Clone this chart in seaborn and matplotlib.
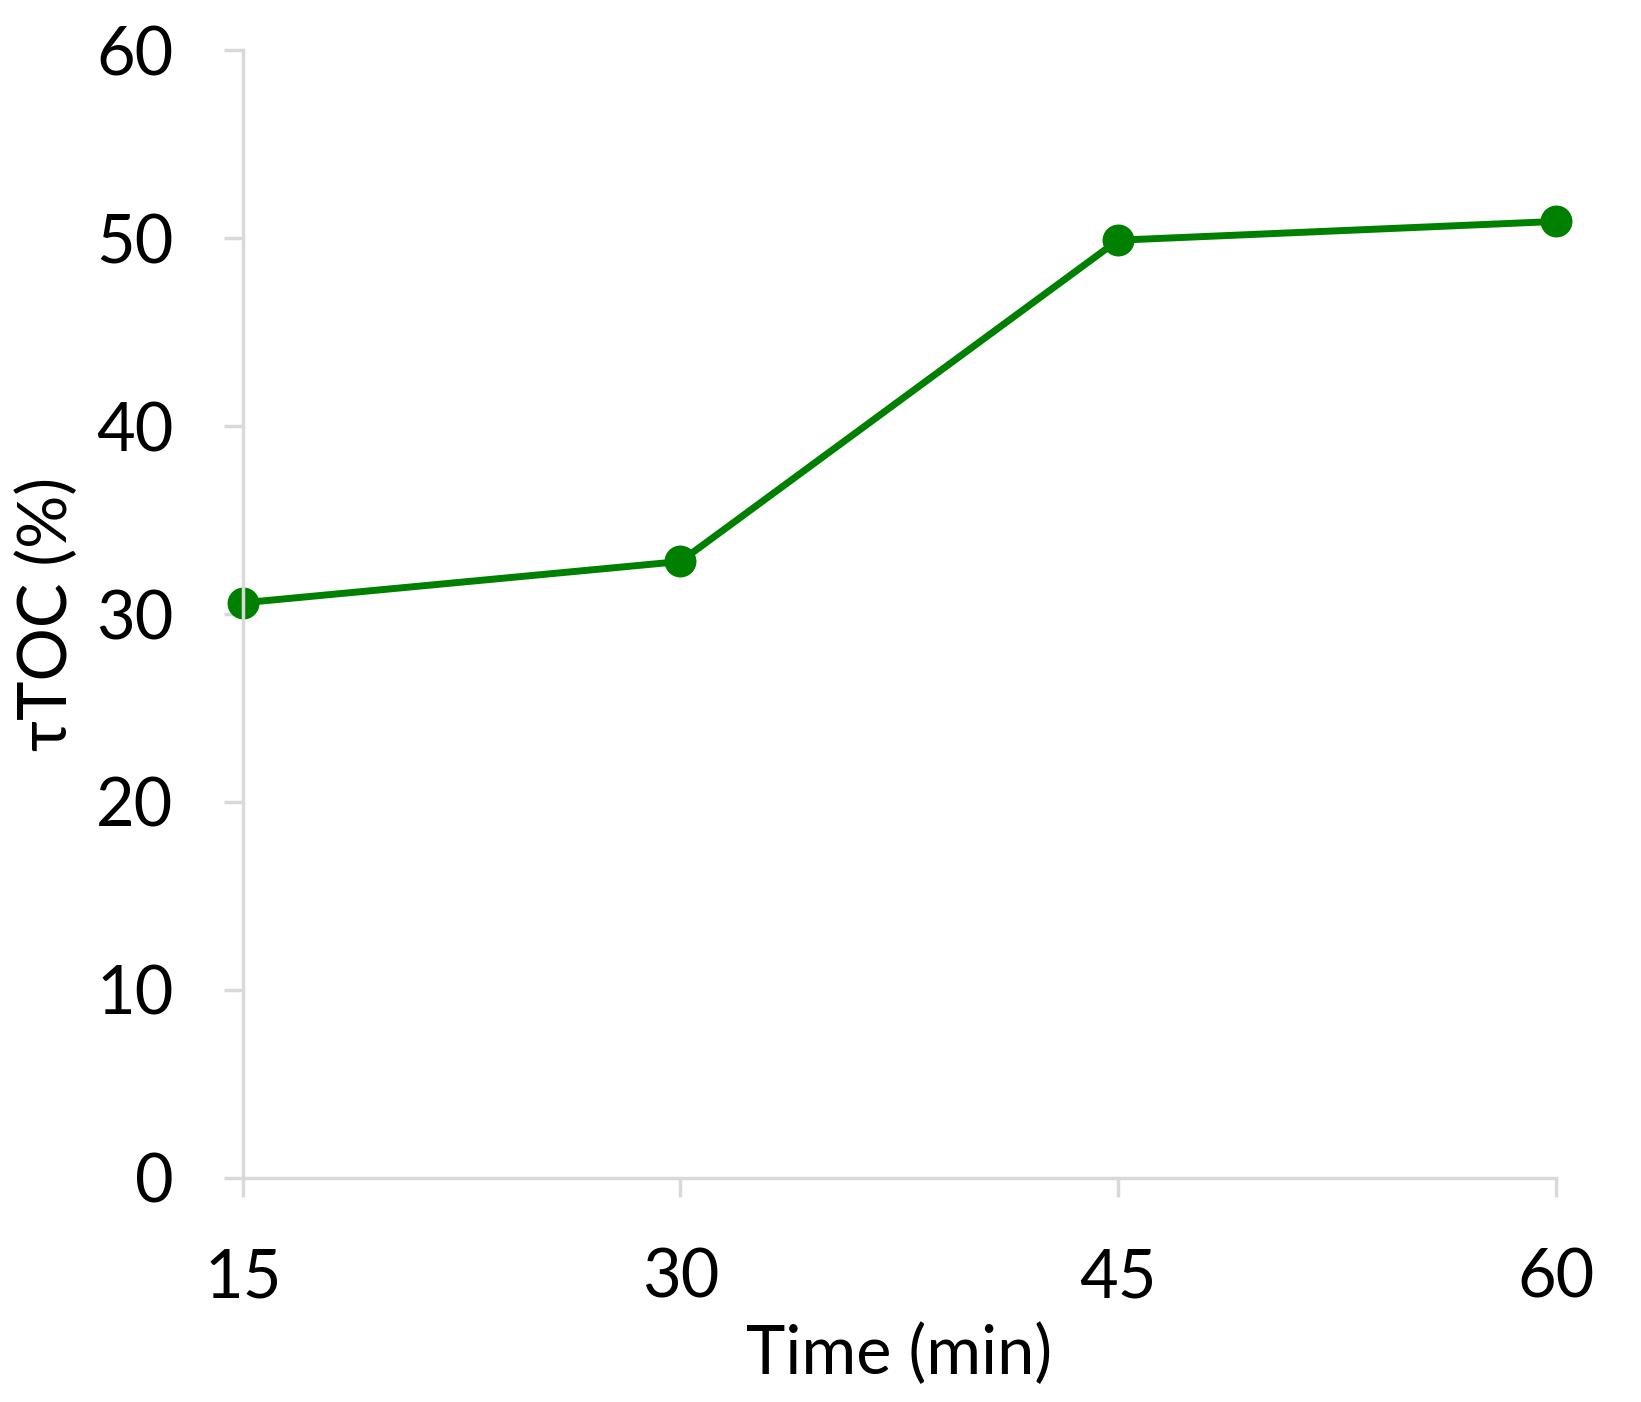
import numpy as np
import pandas as pd
import matplotlib
matplotlib.use("Agg")
import matplotlib.pyplot as plt
import seaborn as sns

# data
time_min = [15, 30, 45, 60]
ttoc_pct = [30.6, 32.8, 49.9, 50.9]
x_ticks = [15, 30, 45, 60]
y_ticks = [0, 10, 20, 30, 40, 50, 60]

sns.set_style("white")
plt.rcParams['font.family'] = ['Lato', 'DejaVu Sans']

df = pd.DataFrame({'Time (min)': time_min, 'tTOC': ttoc_pct})

fig = plt.figure(figsize=(16.41, 14.02), dpi=100)
ax = fig.add_axes([0.148, 0.160, 0.800, 0.804])

sns.lineplot(data=df, x='Time (min)', y='tTOC', ax=ax, color='#008000',
             linewidth=5, marker='o', markersize=23, markeredgewidth=0)

ax.set_xlim(15, 60)
ax.set_ylim(0, 60)
ax.set_xticks(x_ticks)
ax.set_yticks(y_ticks)

for side in ['top', 'right']:
    ax.spines[side].set_visible(False)
for side in ['left', 'bottom']:
    ax.spines[side].set_color('#d9d9d9')
    ax.spines[side].set_linewidth(2.5)

ax.tick_params(axis='both', bottom=True, left=True, direction='out',
               length=14, width=2.5, color='#d9d9d9', labelsize=48,
               labelcolor='black')
ax.tick_params(axis='x', pad=36)
ax.tick_params(axis='y', pad=36)

ax.set_xlabel('Time (min)', fontsize=48, labelpad=10, color='black')
ax.set_ylabel('τTOC (%)', fontsize=48, labelpad=12, color='black')

for line in ax.lines:
    line.set_clip_on(False)

fig.savefig('out.png', dpi=100)
